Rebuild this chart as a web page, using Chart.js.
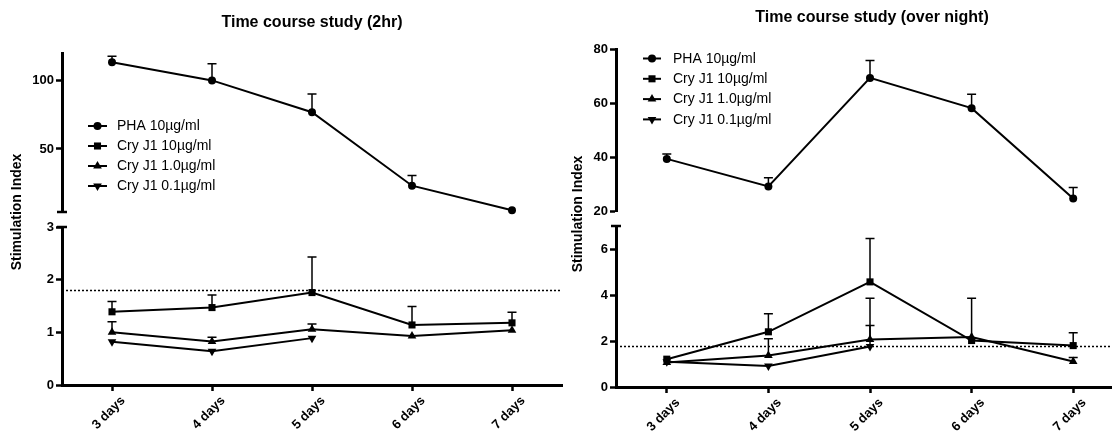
<!DOCTYPE html>
<html>
<head>
<meta charset="utf-8">
<script src="https://cdn.jsdelivr.net/npm/chart.js@4/dist/chart.umd.min.js"></script>
<style>
html,body{margin:0;padding:0;background:#fff;}
body{width:1112px;height:431px;overflow:hidden;position:relative;}
canvas{position:absolute;}
</style>
</head>
<body>
<script>
// ---------------- DATA ----------------
const days = ['3 days', '4 days', '5 days', '6 days', '7 days'];
const dayX = [3, 4, 5, 6, 7];
const seriesNames = ['PHA 10µg/ml', 'Cry J1 10µg/ml', 'Cry J1 1.0µg/ml', 'Cry J1 0.1µg/ml'];
const panelTitles = ['Time course study (2hr)', 'Time course study (over night)'];
const yAxisTitle = 'Stimulation Index';
const thresholdSI = 1.8;

// Time course (2hr)
const pha2hr      = [113.3, 100, 76.8, 23.2, 5.3];
const pha2hrErr   = [4.3, 12.1, 13.2, 7.5, null];
const cry10_2hr   = [1.39, 1.47, 1.755, 1.14, 1.18];
const cry10_2hrErr= [0.195, 0.24, 0.675, 0.35, 0.2];
const cry1_2hr    = [1.0, 0.825, 1.06, 0.93, 1.04];
const cry1_2hrErr = [0.2, 0.08, 0.1, null, null];
const cry01_2hr   = [0.82, 0.64, 0.89, null, null];
const cry01_2hrErr= [null, null, null, null, null];

// Time course (over night)
const phaON       = [39.3, 29.1, 69.3, 58.1, 24.6];
const phaONErr    = [1.8, 3.2, 6.4, 5.1, 4.1];
const cry10_ON    = [1.21, 2.4, 4.57, 2.02, 1.8];
const cry10_ONErr = [null, 0.79, 1.89, 1.84, 0.56];
const cry1_ON     = [1.07, 1.37, 2.06, 2.17, 1.11];
const cry1_ONErr  = [null, 0.73, 1.8, null, 0.17];
const cry01_ON    = [1.1, 0.91, 1.76, null, null];
const cry01_ONErr = [null, null, 0.91, null, null];

// axis ranges & ticks
const xRange = [2.5, 7.5];
const range2hrUpper = [4, 120];
const range2hrLower = [0, 3];
const rangeONUpper  = [20, 80];
const rangeONLower  = [0, 7];
const ticks2hrUpper = [50, 100];
const ticks2hrLower = [0, 1, 2, 3];
const ticksONUpper  = [20, 40, 60, 80];
const ticksONLower  = [0, 2, 4, 6];

// ---------------- STYLE ----------------
const FONT = "'Liberation Sans', Arial, Helvetica, sans-serif";
const markerStyles = [
  {pointStyle: 'circle',   radius: 4,   rotation: 0},
  {pointStyle: 'rect',     radius: 5,   rotation: 0},
  {pointStyle: 'triangle', radius: 5,   rotation: 0},
  {pointStyle: 'triangle', radius: 5,   rotation: 180}
];

function drawMarker(ctx, m, x, y) {
  ctx.beginPath();
  if (m.pointStyle === 'circle') {
    ctx.arc(x, y, m.radius, 0, Math.PI * 2);
  } else if (m.pointStyle === 'rect') {
    const s = Math.SQRT1_2 * m.radius;
    ctx.rect(x - s, y - s, 2 * s, 2 * s);
  } else {
    let rad = m.rotation * Math.PI / 180;
    for (let k = 0; k < 3; k++) {
      const px = x + Math.sin(rad) * m.radius, py = y - Math.cos(rad) * m.radius;
      if (k === 0) ctx.moveTo(px, py); else ctx.lineTo(px, py);
      rad += 2 * Math.PI / 3;
    }
    ctx.closePath();
  }
  ctx.fill();
}

function ds(i, values, errs) {
  const m = markerStyles[i];
  return {
    label: seriesNames[i],
    data: dayX.map((x, k) => ({x: x, y: values[k]})),
    errUp: errs,
    borderColor: '#000', backgroundColor: '#000', borderWidth: 2,
    pointStyle: m.pointStyle, pointRadius: m.radius, pointRotation: m.rotation,
    pointBorderWidth: 0, pointBackgroundColor: '#000', pointHoverRadius: m.radius,
    tension: 0, clip: false, spanGaps: false
  };
}

const figurePlugin = {
  id: 'figure',
  beforeDatasetsDraw(chart, args, o) {
    const ctx = chart.ctx, a = chart.chartArea, ys = chart.scales.y;
    ctx.save();
    ctx.strokeStyle = '#000';
    if (o.threshold != null) {
      const y = Math.round(ys.getPixelForValue(o.threshold)) + 0.5;
      ctx.setLineDash([2, 2]);
      ctx.lineWidth = 1.5;
      ctx.beginPath(); ctx.moveTo(a.left, y); ctx.lineTo(a.right, y); ctx.stroke();
      ctx.setLineDash([]);
    }
    chart.data.datasets.forEach((d, i) => {
      const meta = chart.getDatasetMeta(i);
      (d.errUp || []).forEach((e, k) => {
        const v = d.data[k].y;
        if (e == null || v == null) return;
        const el = meta.data[k];
        const yt = ys.getPixelForValue(v + e);
        ctx.lineWidth = 1.5;
        ctx.beginPath();
        ctx.moveTo(el.x, el.y); ctx.lineTo(el.x, yt);
        ctx.moveTo(el.x - 4.5, yt); ctx.lineTo(el.x + 4.5, yt);
        ctx.stroke();
      });
    });
    ctx.restore();
  },
  afterDraw(chart, args, o) {
    const ctx = chart.ctx, a = chart.chartArea, ys = chart.scales.y;
    ctx.save();
    ctx.fillStyle = '#000'; ctx.strokeStyle = '#000';
    (o.caps || []).forEach(which => {
      const y = ys.getPixelForValue(which === 'min' ? ys.min : ys.max);
      ctx.lineWidth = 2.5;
      ctx.beginPath(); ctx.moveTo(a.left - 5, y); ctx.lineTo(a.left + 5, y); ctx.stroke();
    });
    if (o.title) {
      ctx.font = 'bold 16px ' + FONT;
      ctx.textAlign = 'center'; ctx.textBaseline = 'middle';
      ctx.fillText(o.title.text, (a.left + a.right) / 2 + o.title.dx, a.top + o.title.dy);
    }
    if (o.legend) {
      const lg = o.legend;
      seriesNames.forEach((name, i) => {
        const y = a.top + lg.dy + i * lg.gap;
        const x0 = a.left + lg.dx;
        ctx.lineWidth = 2;
        ctx.beginPath(); ctx.moveTo(x0, y); ctx.lineTo(x0 + lg.lineW, y); ctx.stroke();
        drawMarker(ctx, markerStyles[i], x0 + lg.lineW / 2, y);
        ctx.font = '14px ' + FONT;
        ctx.textAlign = 'left'; ctx.textBaseline = 'middle';
        ctx.fillText(name, a.left + lg.textDx, y + 0.5);
      });
    }
    if (o.axisTitle) {
      ctx.translate(a.left + o.axisTitle.dx, a.top + o.axisTitle.dy);
      ctx.rotate(-Math.PI / 2);
      ctx.font = 'bold 14px ' + FONT;
      ctx.textAlign = 'center'; ctx.textBaseline = 'middle';
      ctx.fillText(o.axisTitle.text, 0, 0);
    }
    ctx.restore();
  }
};

const YW = 50, XH = 45;

function makeChart(area, pad, showX, yRange, yTicks, datasets, figOpts) {
  const cv = document.createElement('canvas');
  const w = pad.left + YW + (area.R - area.L) + pad.right;
  const h = pad.top + (area.B - area.T) + (showX ? XH : 0) + pad.bottom;
  cv.width = w; cv.height = h;
  cv.style.left = (area.L - YW - pad.left) + 'px';
  cv.style.top = (area.T - pad.top) + 'px';
  cv.style.width = w + 'px'; cv.style.height = h + 'px';
  document.body.appendChild(cv);
  return new Chart(cv, {
    type: 'line',
    data: {datasets: datasets},
    plugins: [figurePlugin],
    options: {
      responsive: false, animation: false, devicePixelRatio: 1,
      events: [],
      layout: {padding: pad},
      plugins: {legend: {display: false}, tooltip: {enabled: false}, title: {display: false}, figure: figOpts},
      scales: {
        x: {
          type: 'linear', min: xRange[0], max: xRange[1], display: showX,
          afterBuildTicks: s => { s.ticks = dayX.map(v => ({value: v})); },
          afterFit: s => { if (showX) { s.height = XH; } else { s.height = 0; } s.paddingLeft = 0; s.paddingRight = 0; },
          ticks: {
            callback: (v, i) => days[i], minRotation: 45, maxRotation: 45, autoSkip: false,
            color: '#000', padding: 2, labelOffset: 11, font: {family: FONT, size: 13, weight: 'bold'}
          },
          grid: {drawOnChartArea: false, drawTicks: true, tickLength: 6, tickWidth: 2.5, tickColor: '#000'},
          border: {display: true, width: 3, color: '#000'}
        },
        y: {
          type: 'linear', min: yRange[0], max: yRange[1],
          afterBuildTicks: s => { s.ticks = yTicks.map(v => ({value: v})); },
          afterFit: s => { s.width = YW; s.paddingTop = 0; s.paddingBottom = 0; },
          ticks: {color: '#000', padding: 2, font: {family: FONT, size: 13, weight: 'bold'}},
          grid: {drawOnChartArea: false, drawTicks: true, tickLength: 6, tickWidth: 2.5, tickColor: '#000'},
          border: {display: true, width: 3, color: '#000'}
        }
      }
    }
  });
}

// ---------------- LEFT PANEL (2hr) ----------------
makeChart({L: 62, T: 53, R: 562, B: 212}, {top: 53, right: 6, bottom: 10, left: 10}, false,
  range2hrUpper, ticks2hrUpper,
  [ds(0, pha2hr, pha2hrErr)],
  {caps: ['min'], title: {text: panelTitles[0], dx: 0, dy: -30},
   legend: {dx: 26, dy: 73, gap: 20, lineW: 19, textDx: 55}});

makeChart({L: 62, T: 227, R: 562, B: 385}, {top: 100, right: 6, bottom: 0, left: 10}, true,
  range2hrLower, ticks2hrLower,
  [ds(1, cry10_2hr, cry10_2hrErr), ds(2, cry1_2hr, cry1_2hrErr), ds(3, cry01_2hr, cry01_2hrErr)],
  {caps: ['max'], threshold: thresholdSI, axisTitle: {text: yAxisTitle, dx: -45, dy: -15}});

// ---------------- RIGHT PANEL (over night) ----------------
makeChart({L: 616, T: 49, R: 1124, B: 211}, {top: 49, right: 6, bottom: 10, left: 10}, false,
  rangeONUpper, ticksONUpper,
  [ds(0, phaON, phaONErr)],
  {caps: [], title: {text: panelTitles[1], dx: 2, dy: -31},
   legend: {dx: 27, dy: 9.5, gap: 20.3, lineW: 18, textDx: 57}});

makeChart({L: 616, T: 226, R: 1124, B: 387}, {top: 100, right: 6, bottom: 0, left: 10}, true,
  rangeONLower, ticksONLower,
  [ds(1, cry10_ON, cry10_ONErr), ds(2, cry1_ON, cry1_ONErr), ds(3, cry01_ON, cry01_ONErr)],
  {caps: ['max'], threshold: thresholdSI, axisTitle: {text: yAxisTitle, dx: -38, dy: -12}});
</script>
</body>
</html>
